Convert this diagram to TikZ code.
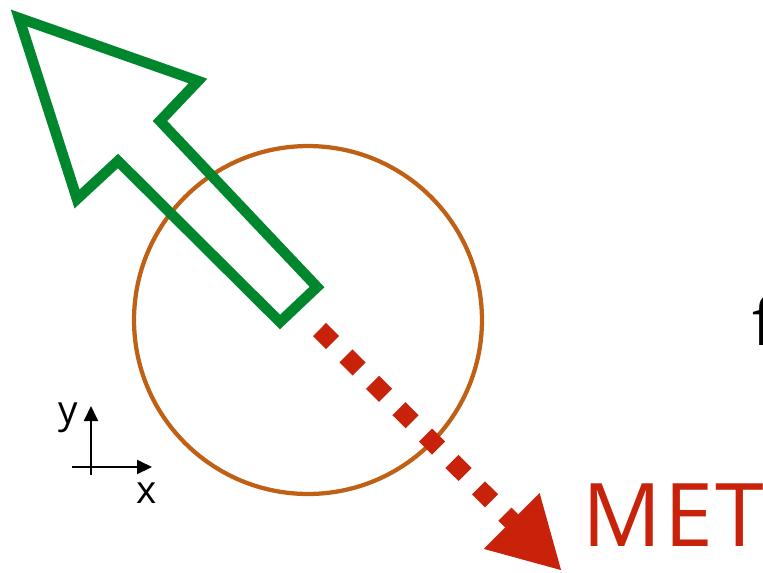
\documentclass[tikz,border=0pt]{standalone}
\usepackage{fontspec}
\setmainfont{Open Sans}
\usetikzlibrary{arrows.meta}
\definecolor{jetgreen}{RGB}{0,135,45}
\definecolor{coneorange}{RGB}{192,96,20}
\definecolor{metred}{RGB}{200,35,10}
\tikzset{
    jet/.style={draw=jetgreen, line width=0.21cm, miter limit=20},
    cone/.style={draw=coneorange, line width=0.085cm},
    met/.style={metred, line width=0.37cm, dash pattern=on 0.37cm off 0.378cm,
        -{Triangle[length=1.42cm, width=1.47cm]}},
    axis/.style={-{Triangle[length=0.3cm, width=0.28cm]}, line width=0.04cm}
}

\begin{document}
\begin{tikzpicture}[x=0.02cm, y=-0.02cm]
    \useasboundingbox (0,0) rectangle (763,572);
    % cone round the jet
    \coordinate (C) at (308,320);
    \draw[cone] (C) circle[radius=3.48cm];
    % jet arrow
    \draw[jet] (19,18) coordinate (tip) -- (198,81) -- (160,121) -- (317,287)
        -- (280,322) -- (118,161) -- (77,199) -- cycle;
    % missing momentum opposite the jet
    \coordinate (m0) at (319.5,329.5);
    \coordinate (m1) at (562,571);
    \draw[met] (m0) -- (m1);
    \node[anchor=base west, inner sep=0, text=metred,
        font=\fontsize{50}{60}\selectfont\addfontfeature{LetterSpace=3}] (met) at (582,546) {MET};
    \node[anchor=base west, inner sep=0, font=\fontsize{37}{44}\selectfont] (f) at (752,345) {f};
    % small axes
    \coordinate (o) at (91,467);
    \draw[axis] (72,467) coordinate (xl) -- (152,467) coordinate (xr);
    \draw[axis] (91,475) coordinate (yb) -- (91,406) coordinate (yt);
    \node[anchor=base, inner sep=0, font=\fontsize{22}{26}\selectfont] (ylab) at (68,423) {y};
    \node[anchor=base, inner sep=0, font=\fontsize{22}{26}\selectfont] (xlab) at (147,503) {x};
\end{tikzpicture}
\end{document}
